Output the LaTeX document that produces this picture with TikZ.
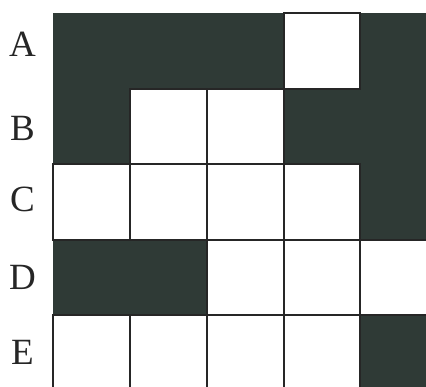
\documentclass[tikz,border=0pt]{standalone}
\usepackage{fontspec}
\setmainfont{Liberation Serif}
\definecolor{darkcell}{RGB}{47,58,54}
\begin{document}
\begin{tikzpicture}[x=1pt,y=-1pt,
  lbl/.style={font=\fontsize{37}{37}\selectfont, text=black!85, anchor=center},
  dk/.style={fill=darkcell, draw=darkcell, line width=0.6pt},
  wt/.style={fill=white, draw=black!85, line width=1.3pt}]
\useasboundingbox (0,0) rectangle (426,386);
\fill[white] (0,0) rectangle (426,386);
\def\xs{{53,130,207,284,360,437}}
\def\ys{{13,89,164,240,315,391}}
% rows: 1 = dark, 0 = white
\foreach \r/\row in {0/{1,1,1,0,1},1/{1,0,0,1,1},2/{0,0,0,0,1},3/{1,1,0,0,0},4/{0,0,0,0,1}}{
  \foreach \v [count=\c from 0] in \row {
    \pgfmathsetmacro{\xa}{\xs[\c]}
    \pgfmathsetmacro{\xb}{\xs[\c+1]}
    \pgfmathsetmacro{\ya}{\ys[\r]}
    \pgfmathsetmacro{\yb}{\ys[\r+1]}
    \ifnum\v=1
      \path[dk] (\xa,\ya) rectangle (\xb,\yb);
    \fi
  }
}
\foreach \r/\row in {0/{1,1,1,0,1},1/{1,0,0,1,1},2/{0,0,0,0,1},3/{1,1,0,0,0},4/{0,0,0,0,1}}{
  \foreach \v [count=\c from 0] in \row {
    \pgfmathsetmacro{\xa}{\xs[\c]}
    \pgfmathsetmacro{\xb}{\xs[\c+1]}
    \pgfmathsetmacro{\ya}{\ys[\r]}
    \pgfmathsetmacro{\yb}{\ys[\r+1]}
    \ifnum\v=0
      \path[wt] (\xa,\ya) rectangle (\xb,\yb);
    \fi
  }
}
\node[lbl] (A) at (22.5,44) {A};
\node[lbl] (B) at (22.5,128) {B};
\node[lbl] (C) at (22.5,199) {C};
\node[lbl] (D) at (22.5,277) {D};
\node[lbl] (E) at (22.5,352) {E};
\end{tikzpicture}
\end{document}
